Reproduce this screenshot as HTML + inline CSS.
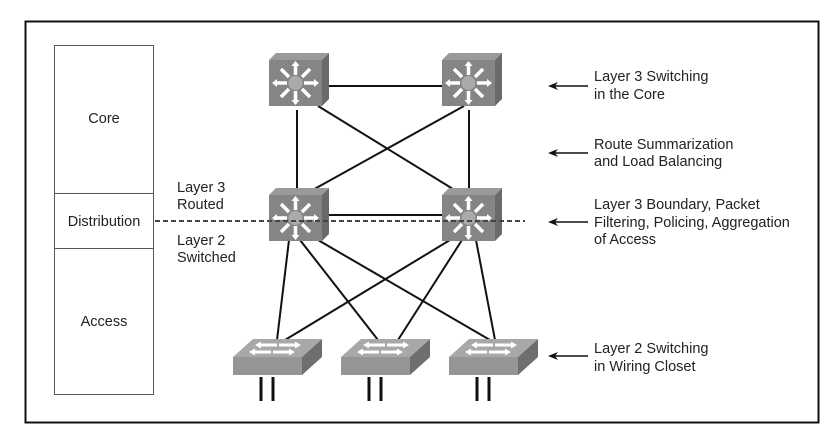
<!DOCTYPE html>
<html><head><style>
body{margin:0;background:#fff;}
svg text{font-family:"Liberation Sans",Arial,sans-serif;font-size:14.5px;fill:#222;}
</style></head><body>
<svg width="839" height="441" viewBox="0 0 839 441" xmlns="http://www.w3.org/2000/svg">
<defs>
<g id="l3">
  <polygon points="0,7 7,0 60,0 53,7" fill="#9a9a9a"/>
  <polygon points="53,7 60,0 60,46 53,53" fill="#6a6a6a"/>
  <rect x="0" y="7" width="53" height="46" fill="#858585"/>
  <circle cx="26.5" cy="30" r="7" fill="#aaa"/>
  <g stroke="#fff" stroke-width="3.5" fill="none">
    <line x1="26.5" y1="22" x2="26.5" y2="11"/><line x1="26.5" y1="38" x2="26.5" y2="49"/>
    <line x1="18" y1="30" x2="6" y2="30"/><line x1="35" y1="30" x2="47" y2="30"/>
    <line x1="20" y1="24" x2="12" y2="16"/><line x1="33" y1="24" x2="41" y2="16"/>
    <line x1="20" y1="36" x2="12" y2="44"/><line x1="33" y1="36" x2="41" y2="44"/>
  </g>
  <g fill="#fff">
    <polygon points="26.5,8 22.5,13 30.5,13"/><polygon points="26.5,52 22.5,47 30.5,47"/>
    <polygon points="3,30 8,26 8,34"/><polygon points="50,30 45,26 45,34"/>
  </g>
</g>
<g id="l2">
  <polygon points="0,20 20,2 89,2 69,20" fill="#a8a8a8"/>
  <polygon points="69,20 89,2 89,20 69,38" fill="#6e6e6e"/>
  <rect x="0" y="20" width="69" height="18" fill="#959595"/>
  <g fill="#fff">
    <polygon points="22,8 28,4.5 28,6.5 44,6.5 44,9.5 28,9.5 28,11.5"/>
    <polygon points="68,8 62,4.5 62,6.5 46,6.5 46,9.5 62,9.5 62,11.5"/>
    <polygon points="16,15 22,11.5 22,13.5 38,13.5 38,16.5 22,16.5 22,18.5"/>
    <polygon points="62,15 56,11.5 56,13.5 40,13.5 40,16.5 56,16.5 56,18.5"/>
  </g>
</g>
</defs>
<rect x="25.5" y="21.5" width="793" height="401" fill="none" stroke="#111" stroke-width="2"/>
<rect x="54.5" y="45.5" width="99" height="349" fill="none" stroke="#555" stroke-width="1"/>
<line x1="54" y1="193.5" x2="154" y2="193.5" stroke="#555"/>
<line x1="54" y1="248.5" x2="154" y2="248.5" stroke="#555"/>
<text x="104" y="123" text-anchor="middle">Core</text>
<text x="104" y="226" text-anchor="middle">Distribution</text>
<text x="104" y="326" text-anchor="middle">Access</text>
<text x="177" y="192">Layer 3</text><text x="177" y="209">Routed</text>
<text x="177" y="245">Layer 2</text><text x="177" y="262">Switched</text>
<g stroke="#111" stroke-width="2">
  <line x1="297" y1="86" x2="469" y2="86"/>
  <line x1="297" y1="110" x2="297" y2="200"/>
  <line x1="469" y1="110" x2="469" y2="200"/>
  <line x1="318" y1="106" x2="466" y2="197"/>
  <line x1="464" y1="106" x2="300" y2="197"/>
  <line x1="297" y1="215" x2="469" y2="215"/>
  <line x1="289" y1="240" x2="277" y2="340"/>
  <line x1="300" y1="240" x2="378" y2="340"/>
  <line x1="318" y1="240" x2="490" y2="340"/>
  <line x1="450" y1="240" x2="285" y2="340"/>
  <line x1="462" y1="240" x2="398" y2="340"/>
  <line x1="476" y1="240" x2="495" y2="340"/>
</g>
<use href="#l3" x="269" y="53"/>
<use href="#l3" x="442" y="53"/>
<use href="#l3" x="269" y="188"/>
<use href="#l3" x="442" y="188"/>
<line x1="155" y1="221" x2="525" y2="221" stroke="#444" stroke-width="2" stroke-dasharray="5,3"/>
<use href="#l2" x="233" y="337"/>
<use href="#l2" x="341" y="337"/>
<use href="#l2" x="449" y="337"/>
<g stroke="#111" stroke-width="3">
  <line x1="261" y1="377" x2="261" y2="401"/><line x1="273" y1="377" x2="273" y2="401"/>
  <line x1="369" y1="377" x2="369" y2="401"/><line x1="381" y1="377" x2="381" y2="401"/>
  <line x1="477" y1="377" x2="477" y2="401"/><line x1="489" y1="377" x2="489" y2="401"/>
</g>
<g stroke="#111" stroke-width="1.5">
  <line x1="552" y1="86" x2="588" y2="86"/><line x1="552" y1="153" x2="588" y2="153"/>
  <line x1="552" y1="222" x2="588" y2="222"/><line x1="552" y1="356" x2="588" y2="356"/>
</g>
<g fill="#111">
  <polygon points="548,86 558,82 555,86 558,90"/><polygon points="548,153 558,149 555,153 558,157"/>
  <polygon points="548,222 558,218 555,222 558,226"/><polygon points="548,356 558,352 555,356 558,360"/>
</g>
<text x="594" y="81">Layer 3 Switching</text><text x="594" y="99">in the Core</text>
<text x="594" y="149">Route Summarization</text><text x="594" y="166">and Load Balancing</text>
<text x="594" y="209">Layer 3 Boundary, Packet</text><text x="594" y="227">Filtering, Policing, Aggregation</text><text x="594" y="244">of Access</text>
<text x="594" y="353">Layer 2 Switching</text><text x="594" y="371">in Wiring Closet</text>
</svg>
</body></html>
